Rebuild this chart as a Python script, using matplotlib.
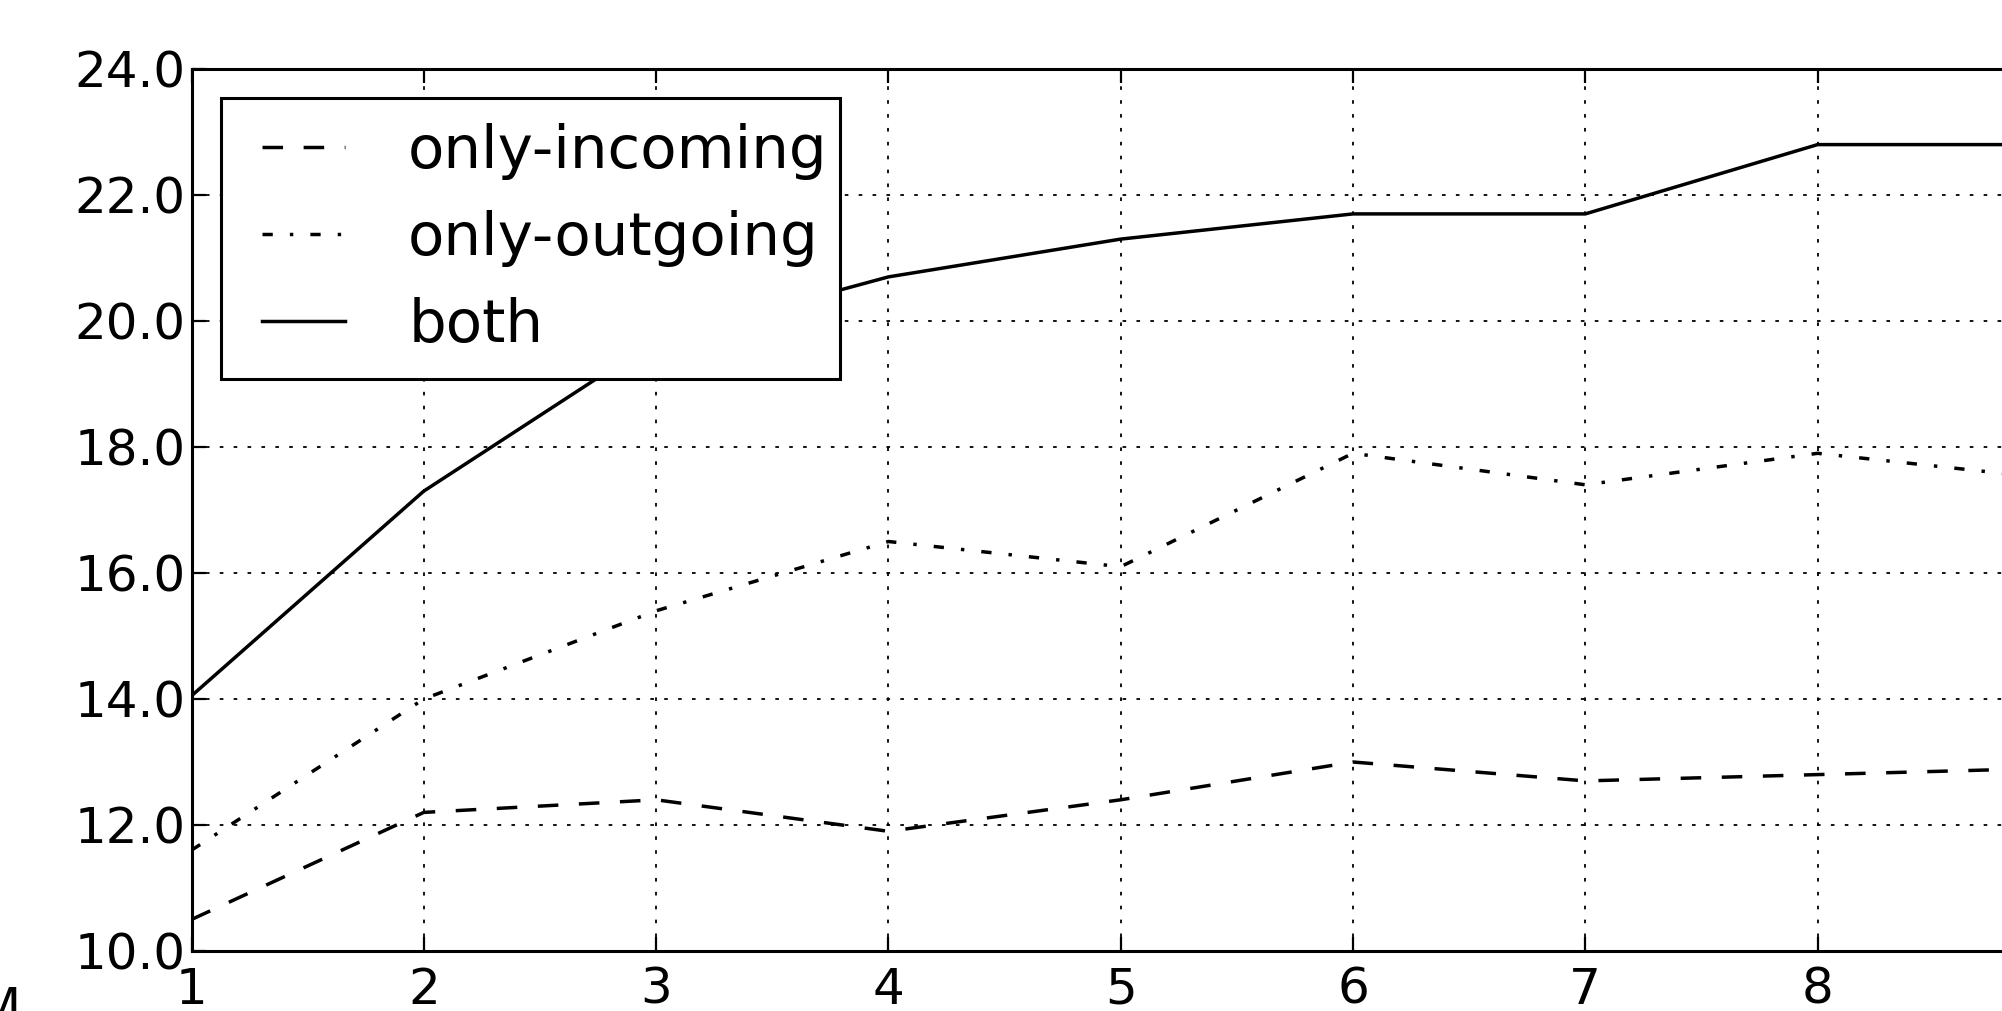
import matplotlib
matplotlib.use("Agg")
import matplotlib.pyplot as plt
from matplotlib.patches import Rectangle

# ---- data ----
x_values = [1, 2, 3, 4, 5, 6, 7, 8, 9]
only_incoming = [10.5, 12.2, 12.4, 11.9, 12.4, 13.0, 12.7, 12.8, 12.9]
only_outgoing = [11.6, 14.0, 15.4, 16.5, 16.1, 17.9, 17.4, 17.9, 17.5]
both = [14.05, 17.3, 19.7, 20.7, 21.3, 21.7, 21.7, 22.8, 22.8]
series_labels = ["only-incoming", "only-outgoing", "both"]
y_ticks = [10, 12, 14, 16, 18, 20, 22, 24]
x_ticks = [1, 2, 3, 4, 5, 6, 7, 8, 9]

plt.rcParams['font.family'] = ['DejaVu Sans']
plt.rcParams['lines.scale_dashes'] = False

W, H = 2002, 1011
fig = plt.figure(figsize=(W / 100, H / 100), dpi=100)

# axes placed in pixels (right part extends past the figure edge, as in the crop)
left_px, top_px, bottom_px = 191.5, 69, 951
unit_px = 232.3
right_px = left_px + (x_ticks[-1] - x_ticks[0]) * unit_px
ax = fig.add_axes([left_px / W, 1 - bottom_px / H,
                   (right_px - left_px) / W, (bottom_px - top_px) / H])

lw = 2.5
ax.plot(x_values, only_incoming, color='black', lw=lw,
        dashes=(14.8, 14.8), label=series_labels[0], zorder=3)
ax.plot(x_values, only_outgoing, color='black', lw=lw,
        dashes=(7.4, 12.3, 2.46, 12.3), label=series_labels[1], zorder=3)
ax.plot(x_values, both, color='black', lw=lw, linestyle='-',
        label=series_labels[2], zorder=3)

ax.set_xlim(x_ticks[0], x_ticks[-1])
ax.set_ylim(y_ticks[0], y_ticks[-1])
ax.set_xticks(x_ticks)
ax.set_xticklabels([str(v) for v in x_ticks])
ax.set_yticks(y_ticks)
ax.set_yticklabels(["%.1f" % v for v in y_ticks])

ax.grid(True, color='black', lw=1.3, linestyle=(0, (2.6, 7.4)), zorder=1)
ax.set_axisbelow(True)

for s in ax.spines.values():
    s.set_linewidth(2.2)
    s.set_color('black')

ax.tick_params(axis='both', which='major', direction='in', length=10,
               width=1.6, colors='black', labelsize=36, top=True, right=True)
ax.tick_params(axis='y', pad=4.0)
ax.tick_params(axis='x', pad=10.5)

# legend frame drawn manually (asymmetric padding as in reference)
fx0, fy0, fx1, fy1 = 221, 98, 840, 379
frame = Rectangle((fx0 / W, 1 - fy1 / H), (fx1 - fx0) / W, (fy1 - fy0) / H,
                  transform=fig.transFigure, facecolor='white', edgecolor='black',
                  lw=2.2, zorder=4, clip_on=False)
ax.add_patch(frame)

leg = ax.legend(loc='upper left', bbox_to_anchor=(262 / W, 1 - 122.5 / H),
                bbox_transform=fig.transFigure, frameon=False, borderpad=0,
                borderaxespad=0, fontsize=42.8, handlelength=1.39,
                handletextpad=1.07, labelspacing=0.51)
leg.set_zorder(5)

fig.text(20 / W, (H - 1023) / H, "M", ha='right', va='baseline',
         fontsize=36, color='black')

fig.savefig("out.png", dpi=100, facecolor='white')
